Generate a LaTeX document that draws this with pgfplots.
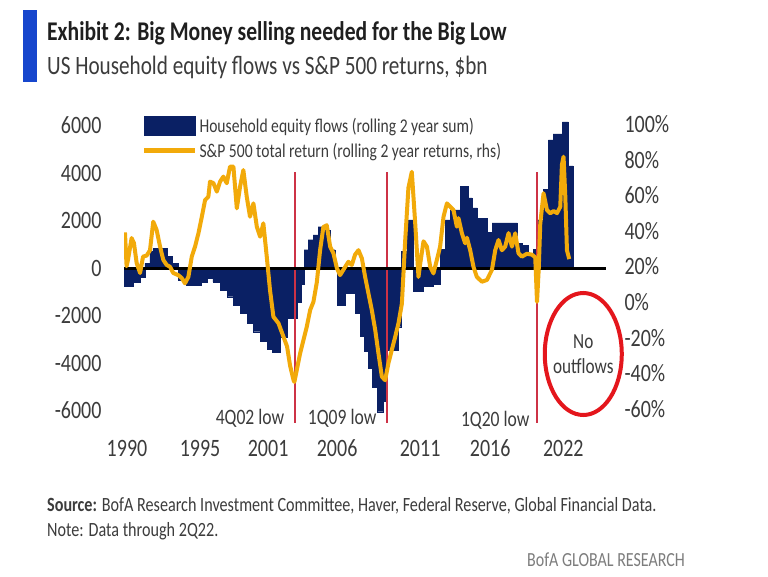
\documentclass[border=0pt]{standalone}
\usepackage{fontspec}
\setmainfont{Carlito}[FakeStretch=0.8]
\usepackage{pgfplots}
\pgfplotsset{compat=1.18}
\definecolor{navyb}{RGB}{10,32,100}
\definecolor{gold}{RGB}{242,170,10}
\definecolor{redl}{RGB}{205,50,70}
\definecolor{circ}{RGB}{228,22,28}
\definecolor{barblue}{RGB}{22,70,205}
\definecolor{txt}{RGB}{60,60,60}
\definecolor{srcgray}{RGB}{125,125,125}

\begin{document}
\begin{tikzpicture}[x=1pt,y=1pt]
\useasboundingbox (0,0) rectangle (768,576);
\fill[white] (0,0) rectangle (768,576);
\fill[barblue] (23,494) rectangle (37,566);
\node[anchor=base west, inner sep=0, text=black!88, font=\fontsize{27}{30}\selectfont\bfseries] at (47,535) {Exhibit 2: Big Money selling needed for the Big Low};
\node[anchor=base west, inner sep=0, text=txt, font=\fontsize{26.5}{30}\selectfont] at (47,501) {US Household equity flows vs S\&P 500 returns, \$bn};

\begin{axis}[
  at={(124pt,141.75pt)}, anchor=south west, scale only axis,
  width=482pt, height=315.85pt,
  xmin=1989.78, xmax=2025.2, ymin=-7000, ymax=6300,
  clip=false,
  axis line style={draw=none}, major tick length=0pt,
  xtick={1990,1995.37,2000.37,2005.44,2011.54,2016.69,2022.06},
  xticklabels={1990,1995,2001,2006,2011,2016,2022},
  ytick={-6000,-4000,...,6000},
  /pgf/number format/1000 sep={},
  /pgf/number format/assume math mode=true,
  tick label style={font=\fontsize{25}{28}\selectfont, text=txt},
  yticklabel style={xshift=-19pt},
  xticklabel style={yshift=-2pt},
  legend style={at={(0.036,1.008)}, anchor=north west, draw=none, fill=none,
    font=\fontsize{19.5}{22}\selectfont, text=txt, row sep=5pt, inner sep=0pt},
  legend cell align=left,
]
\addplot[ybar interval, fill=navyb, draw=navyb, line width=0.3pt,
  legend image code/.code={\fill[navyb] (0pt,-9.5pt) rectangle (51pt,9.5pt);}]
  coordinates {
(1989.78,-750) (1990.44,-580) (1990.96,-370) (1991.32,200) (1991.69,700) (1991.91,820)
(1992.94,480) (1993.31,200) (1993.75,-500) (1994.34,-715) (1995.44,-580) (1995.88,-430)
(1996.32,-580) (1996.84,-925) (1997.35,-1210) (1997.79,-1560) (1998.31,-1900) (1998.82,-2320)
(1999.26,-2680) (1999.78,-3100) (2000.29,-3400) (2000.66,-3550) (2001.25,-2900) (2001.76,-2100)
(2002.50,-1450) (2002.79,-700) (2003.01,770) (2003.31,1190) (2003.68,1400) (2004.04,1740)
(2004.41,1600) (2004.93,770) (2005.29,200) (2005.44,-1550) (2006.03,-1050) (2006.76,-1900)
(2007.13,-2890) (2007.43,-3500) (2007.72,-4200) (2008.01,-5000) (2008.38,-6050) (2008.82,-5600)
(2009.12,-3450) (2009.93,-2470) (2010.15,700) (2010.59,2030) (2011.03,-980) (2011.76,-770)
(2012.50,-700) (2013.01,800) (2013.38,2030) (2013.75,2450) (2014.49,3440) (2015.07,2950)
(2015.37,2530) (2015.74,2100) (2016.47,1500) (2016.84,1900) (2017.43,1900) (2018.68,1050)
(2019.04,950) (2019.49,630) (2019.85,800) (2020.22,2030) (2020.59,3300) (2020.96,5400)
(2021.32,5650) (2021.99,6150) (2022.43,4300) (2022.79,0)
  };
\addlegendentry{Household equity flows (rolling 2 year sum)}
\addlegendimage{legend image code/.code={\draw[gold, line width=5pt] (0pt,0pt) -- (51pt,0pt);}}
\addlegendentry{S\&P 500 total return (rolling 2 year returns, rhs)}
\addplot[redl, line width=1.6pt, forget plot] coordinates {(2002.35,4042) (2002.35,-6526)};
\addplot[redl, line width=1.6pt, forget plot] coordinates {(2009.12,4042) (2009.12,-6526)};
\addplot[redl, line width=1.6pt, forget plot] coordinates {(2020.15,4042) (2020.15,-6526)};
\addplot[black, line width=3pt, forget plot] coordinates {(1989.78,0) (2025.22,0)};
\node[font=\fontsize{22}{24}\selectfont, text=txt] at (axis cs:1999.04,-6316) {4Q02 low};
\node[font=\fontsize{22}{24}\selectfont, text=txt] at (axis cs:2005.81,-6316) {1Q09 low};
\node[font=\fontsize{22}{24}\selectfont, text=txt] at (axis cs:2017.06,-6400) {1Q20 low};
\draw[circ, line width=4pt] (axis cs:2023.53,-3621) ellipse [x radius=38.5pt, y radius=61pt];
\node[align=center, font=\fontsize{21.5}{25}\selectfont, text=txt] at (axis cs:2023.53,-3621) {No\\outflows};
\end{axis}

\begin{axis}[
  at={(124pt,141.75pt)}, anchor=south west, scale only axis,
  width=482pt, height=315.85pt,
  xmin=1989.78, xmax=2025.2, ymin=-73.333, ymax=104,
  axis y line*=right, axis x line=none,
  axis line style={draw=none}, major tick length=0pt,
  ytick={-60,-40,...,100},
  yticklabel={\pgfmathprintnumber{\tick}\%},
  /pgf/number format/assume math mode=true,
  tick label style={font=\fontsize{25}{28}\selectfont, text=txt},
  yticklabel style={xshift=15pt, yshift=1.5pt},
]
\addplot[gold, line width=4pt, line join=round] coordinates {
(1989.85,40) (1989.97,21) (1990.07,24.5) (1990.34,36.8) (1990.51,34) (1990.71,22.8)
(1990.96,17.2) (1991.18,26.4) (1991.45,27) (1991.69,30) (1991.93,46) (1992.18,41.3)
(1992.43,32) (1992.67,24.5) (1992.92,21.7) (1993.16,20.7) (1993.40,17.2) (1993.77,16)
(1994.02,14.4) (1994.26,11.4) (1994.51,15) (1994.76,26.4) (1995.00,32) (1995.25,39.5)
(1995.50,48.8) (1995.74,58.2) (1995.98,60) (1996.10,68.5) (1996.35,67.7) (1996.60,62.9)
(1996.84,68.5) (1997.08,71.3) (1997.33,67.6) (1997.57,76.9) (1997.82,76.9) (1998.07,53.5)
(1998.31,65.7) (1998.55,75) (1998.80,60) (1999.04,48.8) (1999.29,56.3) (1999.54,43.2)
(1999.78,37.6) (2000.02,45.1) (2000.27,26.4) (2000.51,7.6) (2000.76,-7.4) (2001.13,-11)
(2001.47,-18) (2001.76,-24) (2001.99,-35) (2002.24,-43) (2002.30,-44) (2002.72,-28)
(2003.21,-13) (2003.46,-3.6) (2003.70,1) (2003.95,12) (2004.19,30) (2004.43,43)
(2004.68,44) (2004.93,32) (2005.17,28.3) (2005.42,20) (2005.66,16) (2005.90,19)
(2006.27,23.5) (2006.52,21.7) (2006.76,27.5) (2007.01,30) (2007.26,25.4) (2007.50,15)
(2007.74,5.8) (2007.99,-3.6) (2008.24,-14.8) (2008.48,-28) (2008.73,-41) (2008.97,-43)
(2009.21,-33.5) (2009.46,-26) (2009.71,-18.6) (2009.95,-11) (2010.20,0) (2010.44,35)
(2010.68,65) (2010.93,74) (2011.18,45) (2011.42,15) (2011.54,22) (2011.79,35)
(2012.04,32) (2012.28,20.7) (2012.52,17) (2012.77,24.5) (2013.01,32) (2013.26,48.8)
(2013.51,56.3) (2013.75,54.4) (2013.99,52.6) (2014.24,43.2) (2014.36,48) (2014.61,39.5)
(2014.85,33.9) (2014.98,37) (2015.22,30) (2015.46,20.7) (2015.71,15) (2016.08,12.3)
(2016.45,13.3) (2016.82,19) (2017.06,30) (2017.30,35.7) (2017.55,30) (2017.79,32)
(2018.04,39.6) (2018.29,32) (2018.53,39.5) (2018.77,28.3) (2019.02,26.4) (2019.39,28)
(2019.76,27.5) (2020.00,26) (2020.13,1) (2020.26,20) (2020.37,45) (2020.61,62)
(2020.86,52.6) (2021.10,50.7) (2021.35,52) (2021.60,50.8) (2021.84,54.4) (2021.96,78)
(2022.08,82.5) (2022.21,60) (2022.33,30) (2022.50,25)
};
\end{axis}

\node[anchor=base west, inner sep=0, font=\fontsize{20.2}{22}\selectfont, text=txt] at (47,65) {\textbf{Source:} BofA Research Investment Committee, Haver, Federal Reserve, Global Financial Data.};
\node[anchor=base west, inner sep=0, font=\fontsize{20.2}{22}\selectfont, text=txt] at (47,40) {Note: Data through 2Q22.};
\node[anchor=base west, inner sep=0, font=\fontsize{20}{22}\selectfont, text=srcgray] at (527,10) {BofA GLOBAL RESEARCH};
\end{tikzpicture}
\end{document}
